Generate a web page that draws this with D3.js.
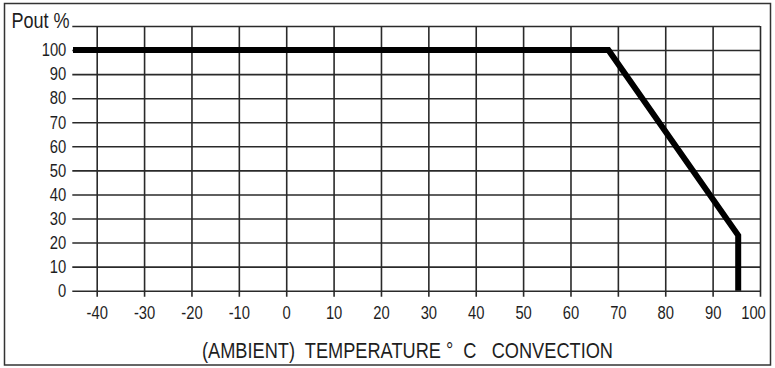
<!DOCTYPE html>
<html><head><meta charset="utf-8">
<script src="https://cdn.jsdelivr.net/npm/d3@7"></script>
<style>
html,body{margin:0;padding:0;background:#fff;}
svg{display:block;}
text{font-family:"Liberation Sans",Arial,sans-serif;fill:#1e1e1e;}
</style></head>
<body>
<svg id="c" width="775" height="368"></svg>
<script>
// Data
const temperature = [-45, 68, 95.4, 95.4];
const poutPercent = [100, 100, 23, 0];
const xTicks = [-40,-30,-20,-10,0,10,20,30,40,50,60,70,80,90,100];
const yTicks = [0,10,20,30,40,50,60,70,80,90,100,110];
const yLabel = "Pout %";
const xTitle = "(AMBIENT)  TEMPERATURE \u00B0  C   CONVECTION";

const svg = d3.select("#c");
const x = d3.scaleLinear().domain([-40, 100]).range([96.7, 760]);
const y = d3.scaleLinear().domain([0, 110]).range([290.7, 26]);

// outer frame
svg.append("rect").attr("x", 4.5).attr("y", 3.5).attr("width", 766).attr("height", 361.5)
  .attr("fill", "none").attr("stroke", "#333").attr("stroke-width", 1.5);

// horizontal grid + y labels
const ya = svg.append("g").attr("transform", `translate(${x(100)},0)`)
  .call(d3.axisLeft(y).tickValues(yTicks).tickSize(x(100) - 72.3).tickPadding(6)
    .tickFormat(d => d === 110 ? "" : String(d)));
ya.select(".domain").remove();
ya.selectAll("line").attr("stroke", "#2a2a2a").attr("stroke-width", 1.6);
ya.selectAll("text").style("font-size", "18px").attr("fill", "#1e1e1e");

// vertical grid + x labels
const xa = svg.append("g").attr("transform", `translate(0,${y(110)})`)
  .call(d3.axisBottom(x).tickValues(xTicks).tickSize(296.7 - y(110)).tickPadding(10)
    .tickFormat(d => String(d)));
xa.select(".domain").remove();
xa.selectAll("line").attr("stroke", "#2a2a2a").attr("stroke-width", 1.6);
xa.selectAll("text").style("font-size", "18px").attr("fill", "#1e1e1e");
// last label sits inside the frame
xa.selectAll(".tick text").filter(d => d === 100).attr("dx", -7);
svg.selectAll("g").attr("font-family", null).attr("font-size", null);

// derating curve
const pts = temperature.map((t, i) => [t, poutPercent[i]]);
svg.append("path").datum(pts)
  .attr("d", d3.line().x(d => x(d[0])).y(d => y(d[1])))
  .attr("fill", "none").attr("stroke", "#000").attr("stroke-width", 6)
  .attr("stroke-linejoin", "miter").attr("stroke-linecap", "butt");

// labels
svg.append("text").attr("x", 11.5).attr("y", 27.7).style("font-size", "22px").text(yLabel);
svg.append("text").attr("class", "title").attr("x", 202).attr("y", 358)
  .style("font-size", "22px").style("white-space", "pre").text(xTitle);

// narrow the glyphs (condensed look)
svg.selectAll("text").each(function() {
  const el = d3.select(this);
  if (!el.text()) return;
  if (el.classed("title")) el.attr("textLength", 411);
  else el.attr("textLength", this.getComputedTextLength() * 0.82);
  el.attr("lengthAdjust", "spacingAndGlyphs");
});
</script>
</body></html>
